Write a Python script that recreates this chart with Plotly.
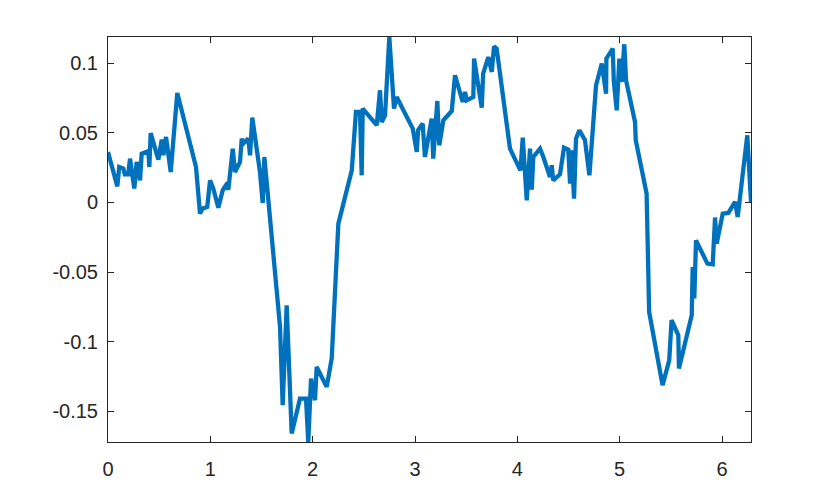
import plotly.graph_objects as go

x_vals = [0.000, 0.091, 0.110, 0.150, 0.164, 0.198, 0.215, 0.257, 0.280, 0.313,
          0.329, 0.394, 0.404, 0.417, 0.492, 0.525, 0.541, 0.567, 0.613, 0.677,
          0.860, 0.899, 0.925, 0.970, 0.997, 1.029, 1.078, 1.121, 1.153, 1.176,
          1.219, 1.241, 1.290, 1.307, 1.322, 1.371, 1.388, 1.410, 1.485, 1.512,
          1.528, 1.681, 1.707, 1.746, 1.795, 1.876, 1.935, 1.957, 1.984, 2.023,
          2.039, 2.088, 2.137, 2.186, 2.251, 2.382, 2.423, 2.463, 2.479, 2.489,
          2.626, 2.658, 2.675, 2.707, 2.749, 2.795, 2.821, 2.978, 3.017, 3.030,
          3.075, 3.097, 3.163, 3.178, 3.218, 3.237, 3.277, 3.359, 3.391, 3.466,
          3.489, 3.505, 3.570, 3.577, 3.652, 3.666, 3.716, 3.750, 3.772, 3.798,
          3.863, 3.928, 4.030, 4.053, 4.092, 4.124, 4.141, 4.156, 4.222, 4.254,
          4.319, 4.336, 4.350, 4.417, 4.456, 4.498, 4.515, 4.531, 4.554, 4.573,
          4.606, 4.661, 4.704, 4.769, 4.825, 4.867, 4.870, 4.932, 4.943, 4.971,
          4.997, 5.020, 5.045, 5.062, 5.150, 5.157, 5.263, 5.288, 5.419, 5.484,
          5.507, 5.573, 5.579, 5.704, 5.713, 5.729, 5.746, 5.857, 5.909, 5.932,
          5.948, 6.007, 6.062, 6.127, 6.153, 6.247, 6.2832]

y_vals = [0.0363, 0.0116, 0.0255, 0.0244, 0.0203, 0.0203, 0.0315, 0.0100, 0.0291, 0.0159,
          0.0351, 0.0370, 0.0255, 0.0499, 0.0308, 0.0452, 0.0339, 0.0471, 0.0219, 0.0787,
          0.0255, -0.0080, -0.0044, -0.0032, 0.0159, 0.0100, -0.0037, 0.0088, 0.0124, 0.0093,
          0.0387, 0.0219, 0.0291, 0.0459, 0.0423, 0.0459, 0.0339, 0.0610, 0.0219, -0.0004,
          0.0327, -0.0894, -0.1457, -0.0739, -0.1660, -0.1409, -0.1409, -0.1721, -0.1265, -0.1421,
          -0.1182, -0.1254, -0.1325, -0.1121, -0.0152, 0.0231, 0.0650, 0.0650, 0.0195, 0.0675,
          0.0555, 0.0806, 0.0578, 0.0626, 0.1189, 0.0675, 0.0758, 0.0531, 0.0363, 0.0519,
          0.0567, 0.0327, 0.0603, 0.0315, 0.0729, 0.0411, 0.0591, 0.0657, 0.0914, 0.0722,
          0.0794, 0.0734, 0.0758, 0.1034, 0.0682, 0.0926, 0.1045, 0.0938, 0.1122, 0.1106,
          0.0722, 0.0387, 0.0231, 0.0466, 0.0016, 0.0387, 0.0093, 0.0327, 0.0387, 0.0327,
          0.0183, 0.0267, 0.0159, 0.0203, 0.0394, 0.0380, 0.0136, 0.0375, 0.0028, 0.0459,
          0.0519, 0.0447, 0.0195, 0.0842, 0.0998, 0.0782, 0.1034, 0.1106, 0.0866, 0.0662,
          0.1034, 0.0866, 0.1137, 0.0878, 0.0578, 0.0447, 0.0064, -0.0787, -0.1313, -0.1134,
          -0.0846, -0.0954, -0.1193, -0.0810, -0.0463, -0.0690, -0.0272, -0.0439, -0.0444, -0.0108,
          -0.0295, -0.0080, -0.0075, 0.0004, -0.0104, 0.0483, 0.0004]

x_ticks = [0, 1, 2, 3, 4, 5, 6]
x_tick_labels = ["0", "1", "2", "3", "4", "5", "6"]
y_ticks = [-0.15, -0.1, -0.05, 0, 0.05, 0.1]
y_tick_labels = ["-0.15", "-0.1", "-0.05", "0", "0.05", "0.1"]

axis_color = "#262626"
font = dict(family="Liberation Sans, Arial, sans-serif", size=20, color=axis_color)

fig = go.Figure()
fig.add_trace(go.Scatter(x=x_vals, y=y_vals, mode="lines",
                         line=dict(color="#0072BD", width=4.3), showlegend=False))

axis_common = dict(showline=True, linecolor=axis_color, linewidth=1, mirror="ticks",
                   ticks="inside", ticklen=6, tickcolor=axis_color, tickwidth=1,
                   showgrid=False, zeroline=False, tickfont=font)

fig.update_xaxes(range=[0, max(x_vals)], tickvals=x_ticks, ticktext=x_tick_labels,
                 ticklabelstandoff=9, **axis_common)
fig.update_yaxes(range=[min(y_vals), max(y_vals)], tickvals=y_ticks, ticktext=y_tick_labels,
                 ticklabelstandoff=5, **axis_common)

fig.update_layout(width=830, height=497, margin=dict(l=100, r=87, t=29, b=63),
                  plot_bgcolor="white", paper_bgcolor="white", font=font)

fig.write_html("out.html")
